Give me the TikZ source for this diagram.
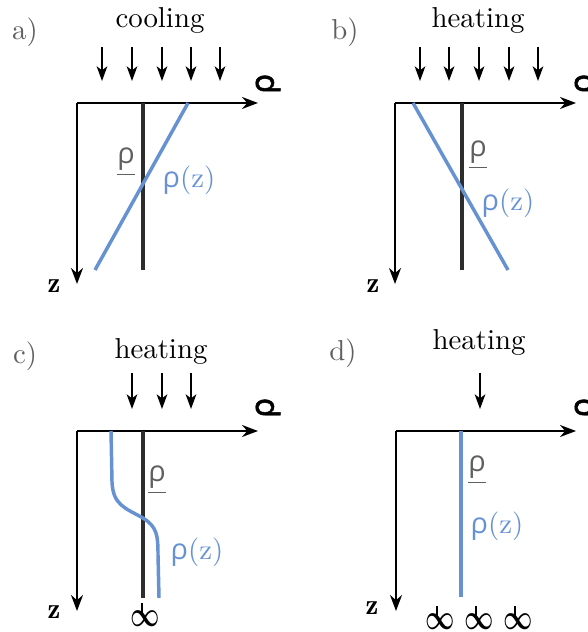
\documentclass[tikz,border=0pt]{standalone}
\usepackage{fontspec}
\usepackage{amsmath}
\usepackage{graphicx}
\usepackage{tikz}
\usetikzlibrary{arrows.meta}
\newfontfamily\grk{Open Sans}
\newfontfamily\grkbold{DejaVu Sans}[FakeBold=1.5]

\definecolor{profblue}{RGB}{102,146,210}
\definecolor{meangray}{RGB}{45,45,45}
\definecolor{labgray}{RGB}{95,95,95}

\tikzset{
  every node/.style={font=\fontsize{10.8}{13}\selectfont, inner sep=0pt},
  axis/.style={-{Stealth[length=6pt,width=4.5pt]}, line width=0.75pt},
  flux/.style={-{Stealth[length=5.5pt,width=4pt,inset=1.5pt]}, line width=0.6pt},
  mean/.style={meangray, line width=1.3pt},
  prof/.style={profblue, line width=1.3pt},
  panellab/.style={labgray},
  meanlab/.style={labgray},
  proflab/.style={profblue},
  axlab/.style={font=\fontsize{12}{14}\grkbold, rotate=90},
  srcsym/.style={font=\fontsize{13}{15}\selectfont},
  srctick/.style={line width=0.85pt},
}
\newcommand{\rh}{{\grk ρ}}
\newcommand{\src}{\scalebox{0.8}[1.1]{$\boldsymbol{\infty}$}}

\begin{document}
\begin{tikzpicture}[x=0.375pt, y=-0.375pt]
  \useasboundingbox (0,0) rectangle (587,632);

  % a) cooling
  \node[panellab] (a-lab) at (25,32) {a)};
  \node (a-heat) at (160,20) {cooling};
  \draw[flux] (102,47) -- (102,81);
  \draw[flux] (132,47) -- (132,81);
  \draw[flux] (162,47) -- (162,81);
  \draw[flux] (191,47) -- (191,81);
  \draw[flux] (220,47) -- (220,81);
  \coordinate (a-o) at (77,103);
  \coordinate (a-x) at (258,103);
  \coordinate (a-z) at (77,284);
  \draw[axis] (a-o) -- (a-x);
  \draw[axis] (a-o) -- (a-z);
  \node[axlab] (a-rho) at (268,84) {ρ};
  \node (a-zlab) at (54,286) {$\mathbf{z}$};
  \draw[mean] (143,103) -- (143,270);
  \draw[prof] (95,270) -- (188,103);
  \node[meanlab] (a-mlab) at (126,162) {\underline{\rh}};
  \node[proflab] (a-plab) at (189,180) {\rh(z)};

  % b) heating
  \node[panellab] (b-lab) at (345,32) {b)};
  \node (b-heat) at (478,20) {heating};
  \draw[flux] (420,47) -- (420,81);
  \draw[flux] (449,47) -- (449,81);
  \draw[flux] (479,47) -- (479,81);
  \draw[flux] (509,47) -- (509,81);
  \draw[flux] (538,47) -- (538,81);
  \coordinate (b-o) at (395,103);
  \coordinate (b-x) at (576,103);
  \coordinate (b-z) at (395,284);
  \draw[axis] (b-o) -- (b-x);
  \draw[axis] (b-o) -- (b-z);
  \node[axlab] (b-rho) at (587,84) {ρ};
  \node (b-zlab) at (373,286) {$\mathbf{z}$};
  \draw[mean] (462,103) -- (462,270);
  \draw[prof] (413,103) -- (508,270);
  \node[meanlab] (b-mlab) at (478,155) {\underline{\rh}};
  \node[proflab] (b-plab) at (508,203) {\rh(z)};

  % c) heating, limited depth
  \node[panellab] (c-lab) at (25,356) {c)};
  \node (c-heat) at (161,351) {heating};
  \draw[flux] (132,373) -- (132,409);
  \draw[flux] (162,373) -- (162,409);
  \draw[flux] (191,373) -- (191,409);
  \coordinate (c-o) at (77,431);
  \coordinate (c-x) at (258,431);
  \coordinate (c-z) at (77,611);
  \draw[axis] (c-o) -- (c-x);
  \draw[axis] (c-o) -- (c-z);
  \node[axlab] (c-rho) at (268,408) {ρ};
  \node (c-zlab) at (54,612) {$\mathbf{z}$};
  \draw[mean] (143,431) -- (143,598);
  \draw[prof] (111,431) -- (112,482)
    .. controls (113,505) and (125,508) .. (143,518)
    .. controls (157,527) and (158,535) .. (158,555) -- (159,598);
  \node[meanlab] (c-mlab) at (157,480) {\underline{\rh}};
  \node[proflab] (c-plab) at (197,552) {\rh(z)};
  \node[srcsym] (c-src) at (145,619) {\src};
  \draw[srctick] ([xshift=-1pt,yshift=1pt]c-src.center) -- ++(0,-13);

  % d) heating at one point
  \node[panellab] (d-lab) at (343,353) {d)};
  \node (d-heat) at (479,342) {heating};
  \draw[flux] (480,373) -- (480,409);
  \coordinate (d-o) at (396,431);
  \coordinate (d-x) at (576,431);
  \coordinate (d-z) at (396,611);
  \draw[axis] (d-o) -- (d-x);
  \draw[axis] (d-o) -- (d-z);
  \node[axlab] (d-rho) at (587,408) {ρ};
  \node (d-zlab) at (372,608) {$\mathbf{z}$};
  \draw[prof] (461,431) -- (461,597);
  \node[meanlab] (d-mlab) at (477,470) {\underline{\rh}};
  \node[proflab] (d-plab) at (497,526) {\rh(z)};
  \node[srcsym] (d-src1) at (440,622) {\src};
  \node[srcsym] (d-src2) at (479,622) {\src};
  \node[srcsym] (d-src3) at (518,622) {\src};
  \draw[srctick] ([xshift=-1pt,yshift=1pt]d-src1.center) -- ++(0,-13);
  \draw[srctick] ([xshift=-1pt,yshift=1pt]d-src2.center) -- ++(0,-13);
  \draw[srctick] ([xshift=-1pt,yshift=1pt]d-src3.center) -- ++(0,-13);
\end{tikzpicture}
\end{document}
